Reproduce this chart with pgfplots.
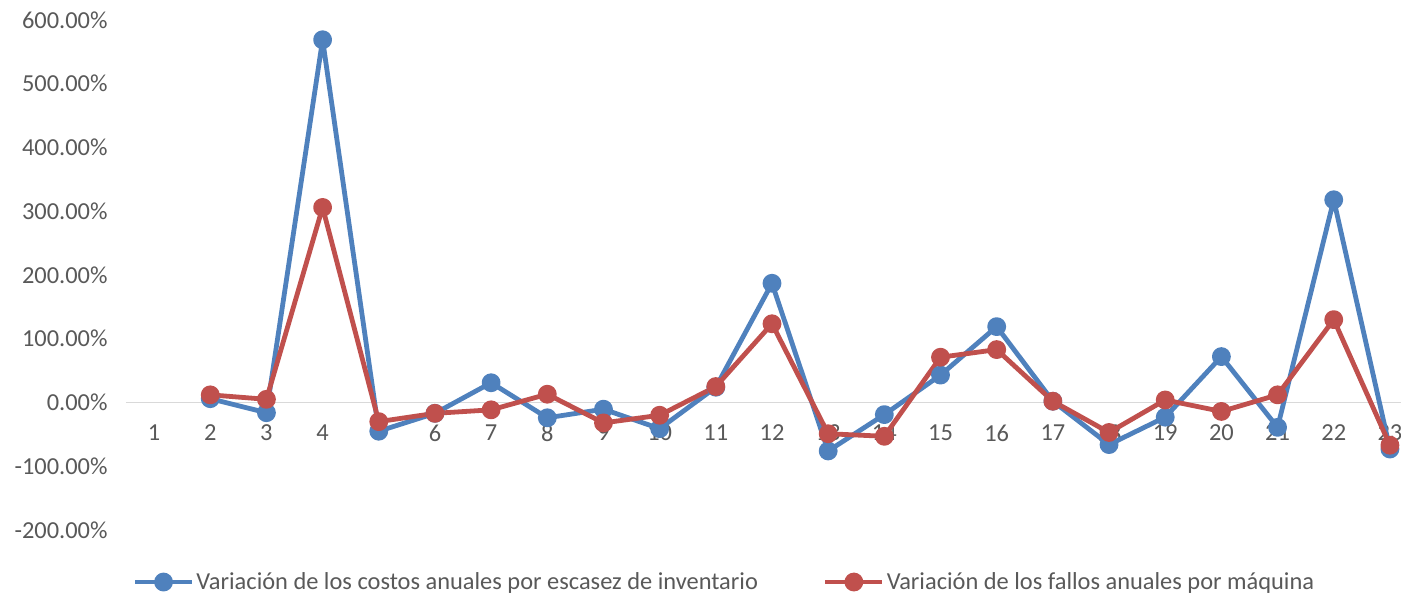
\documentclass[border=0pt]{standalone}
\usepackage{fontspec}
\setmainfont{Carlito}
\usepackage{pgfplots}
\pgfplotsset{compat=1.18}
\usepackage{pgfplotstable}

\definecolor{serieA}{HTML}{4F81BD}
\definecolor{serieB}{HTML}{C0504D}
\definecolor{textgray}{HTML}{595959}
\definecolor{zeroline}{HTML}{D9D9D9}

% Variación porcentual anual (período, valor en %)
\pgfplotstableread{
x   y
2   6
3   -16
4   569
5   -45
6   -17
7   31
8   -24
9   -10.5
10  -41
11  24
12  187
13  -76
14  -19
15  43
16  119
17  2
18  -66
19  -23
20  72
21  -39
22  318
23  -73
}\costos

\pgfplotstableread{
x   y
2   12
3   5
4   306
5   -30
6   -17
7   -11.5
8   13
9   -32
10  -20
11  25
12  123.5
13  -49
14  -53
15  71
16  83
17  2
18  -47
19  4
20  -14
21  12
22  130
23  -67
}\fallos

\begin{document}
\begin{tikzpicture}
\begin{axis}[
  name=ax,
  scale only axis,
  width=1292bp, height=510bp,
  xmin=0.5, xmax=23.5,
  ymin=-200, ymax=600,
  axis x line=middle,
  axis y line=left,
  x axis line style={draw=zeroline, line width=1.5bp, -},
  y axis line style={draw=none},
  hide obscured y ticks=false,
  hide obscured x ticks=false,
  xtick={1,...,23},
  ytick={-200,-100,...,600},
  major tick length=0pt,
  tick style={draw=none},
  /pgf/number format/assume math mode=true,
  yticklabel={\pgfmathprintnumber[fixed,fixed zerofill,precision=2]{\tick}\%},
  ticklabel style={font=\fontsize{24.5}{29}\selectfont, text=textgray},
  yticklabel style={xshift=-15bp},
  xticklabel style={yshift=-19bp},
  clip=false,
  legend columns=2,
  legend style={
    at={(0.4632,-0.102)}, anchor=center, draw=none,
    font=\fontsize{24.5}{29}\selectfont, text=textgray,
    /tikz/every even column/.append style={column sep=63bp},
    inner sep=0pt,
  },
  legend image code/.code={%
    \draw[mark repeat=2,mark phase=2,#1] plot coordinates {(0bp,0bp) (28.5bp,0bp) (57bp,0bp)};},
  every axis plot/.append style={line width=4.8bp, line join=round,
    mark=*, mark size=7bp, mark options={solid}},
]
\addplot[color=serieA] table[x=x,y=y] {\costos};
\addlegendentry{Variación de los costos anuales por escasez de inventario}
\addplot[color=serieB] table[x=x,y=y] {\fallos};
\addlegendentry{Variación de los fallos anuales por máquina}
\end{axis}
\pgfresetboundingbox
\path ([shift={(-126bp,-65bp)}]ax.south west) rectangle ([shift={(1275bp,530bp)}]ax.south west);
\end{tikzpicture}
\end{document}
